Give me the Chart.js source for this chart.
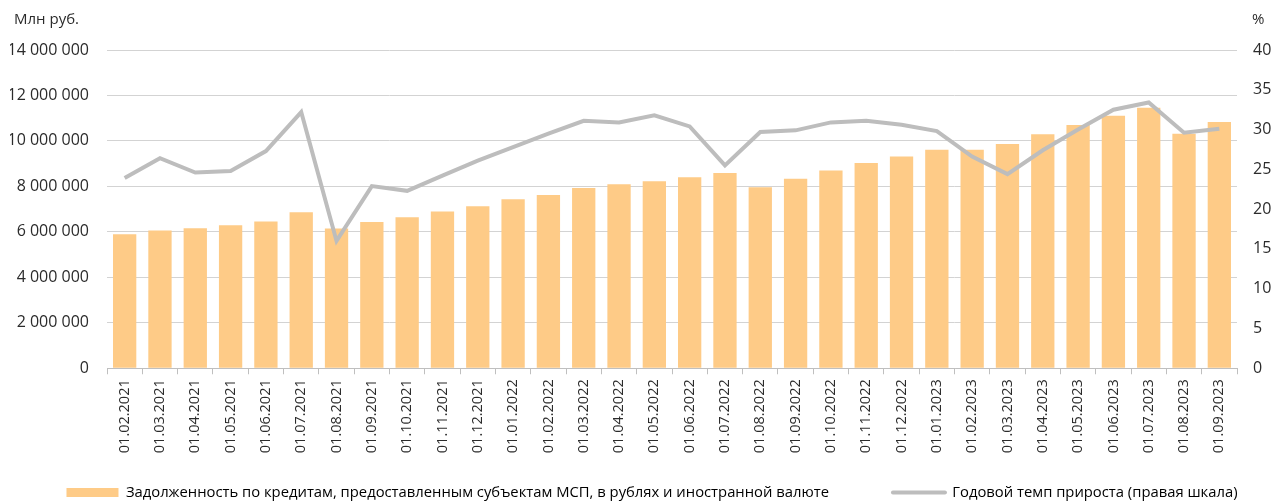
<!DOCTYPE html>
<html lang="ru">
<head>
<meta charset="utf-8">
<script src="https://cdn.jsdelivr.net/npm/chart.js@4.4.0/dist/chart.umd.min.js"></script>
<style>
  body { margin: 0; background: #fff; }
  #msp-chart { display: block; }
</style>
</head>
<body>
<canvas id="msp-chart" width="1274" height="504"></canvas>
<script>
const dates = [
  "01.02.2021", "01.03.2021", "01.04.2021", "01.05.2021", "01.06.2021", "01.07.2021",
  "01.08.2021", "01.09.2021", "01.10.2021", "01.11.2021", "01.12.2021",
  "01.01.2022", "01.02.2022", "01.03.2022", "01.04.2022", "01.05.2022", "01.06.2022",
  "01.07.2022", "01.08.2022", "01.09.2022", "01.10.2022", "01.11.2022", "01.12.2022",
  "01.01.2023", "01.02.2023", "01.03.2023", "01.04.2023", "01.05.2023", "01.06.2023",
  "01.07.2023", "01.08.2023", "01.09.2023",
];

// задолженность, млн руб.
const debt = [
  5900000, 6060000, 6160000, 6290000, 6460000, 6860000,
  6150000, 6430000, 6640000, 6900000, 7130000,
  7430000, 7620000, 7930000, 8090000, 8230000, 8400000,
  8590000, 7960000, 8340000, 8700000, 9030000, 9320000,
  9610000, 9610000, 9860000, 10290000, 10700000, 11110000,
  11460000, 10320000, 10830000,
];

// годовой темп прироста, %
const growth = [
  23.9, 26.4, 24.6, 24.8, 27.3, 32.2,
  16.0, 22.9, 22.3, 24.2, 26.1,
  27.8, 29.5, 31.1, 30.9, 31.8, 30.4,
  25.5, 29.7, 29.9, 30.9, 31.1, 30.6,
  29.8, 26.6, 24.4, 27.4, 30.0, 32.5,
  33.4, 29.6, 30.1,
];

const leftTicks = [0, 2000000, 4000000, 6000000, 8000000, 10000000, 12000000, 14000000];
const rightTicks = [0, 5, 10, 15, 20, 25, 30, 35, 40];

const barColor = "#FECB87";
const lineColor = "#BDBDBD";
const gridColor = "#D3D3D3";
const textColor = "#2b2b2b";
const fontFamily = "'Open Sans', sans-serif";

const fmtNum = (v) => String(v).replace(/\B(?=(\d{3})+(?!\d))/g, " ");

// подписи единиц над осями
const unitTitles = {
  id: "unitTitles",
  afterDraw(chart) {
    const c = chart.ctx;
    c.save();
    c.font = "15px " + fontFamily;
    c.fillStyle = textColor;
    c.textBaseline = "middle";
    c.textAlign = "left";
    c.fillText("Млн руб.", 14, 20);
    c.fillText("%", chart.scales.y2.left + 15, 20);
    c.restore();
  },
};

const ctx = document.getElementById("msp-chart");

new Chart(ctx, {
  type: "bar",
  data: {
    labels: dates,
    datasets: [
      {
        type: "line",
        label: "Годовой темп прироста (правая шкала)",
        data: growth,
        yAxisID: "y2",
        borderColor: lineColor,
        backgroundColor: lineColor,
        borderWidth: 4,
        pointRadius: 0,
        tension: 0,
        order: 1,
      },
      {
        label: "Задолженность по кредитам, предоставленным субъектам МСП, в рублях и иностранной валюте",
        data: debt,
        yAxisID: "y",
        backgroundColor: barColor,
        barPercentage: 0.66,
        categoryPercentage: 1,
        order: 2,
      },
    ],
  },
  options: {
    responsive: false,
    devicePixelRatio: 1,
    animation: false,
    layout: { padding: { top: 50, left: 10, right: -20, bottom: -6 } },
    plugins: {
      tooltip: { enabled: false },
      legend: {
        position: "bottom",
        labels: {
          font: { family: fontFamily, size: 14.8 },
          color: textColor,
          usePointStyle: true,
          pointStyleWidth: 52,
          boxHeight: 9,
          padding: 27,
          generateLabels(chart) {
            const ds = chart.data.datasets;
            return [
              {
                text: ds[1].label + "\u2003\u2003\u2002",
                pointStyle: "rect",
                fillStyle: barColor,
                strokeStyle: barColor,
                lineWidth: 0,
                datasetIndex: 1,
              },
              {
                text: ds[0].label,
                pointStyle: "line",
                fillStyle: lineColor,
                strokeStyle: lineColor,
                lineWidth: 4,
                lineCap: "round",
                datasetIndex: 0,
              },
            ];
          },
        },
      },
    },
    scales: {
      x: {
        offset: true,
        grid: {
          display: true,
          offset: true,
          drawOnChartArea: false,
          drawTicks: true,
          tickLength: 6,
          color: "#BFBFBF",
        },
        border: { display: true, color: "#BFBFBF" },
        ticks: {
          autoSkip: false,
          minRotation: 90,
          maxRotation: 90,
          padding: 5,
          color: textColor,
          font: { family: fontFamily, size: 14.5 },
        },
      },
      y: {
        position: "left",
        min: 0,
        max: 14000000,
        afterBuildTicks(axis) {
          axis.ticks = leftTicks.map((v) => ({ value: v }));
        },
        afterFit(axis) {
          axis.width = 97;
        },
        grid: { color: gridColor, drawTicks: true, tickLength: 18, tickColor: "rgba(0,0,0,0)" },
        border: { display: false },
        ticks: {
          padding: 0,
          color: textColor,
          font: { family: fontFamily, size: 16 },
          callback: (v) => fmtNum(v),
        },
      },
      y2: {
        position: "right",
        min: 0,
        max: 40,
        afterBuildTicks(axis) {
          axis.ticks = rightTicks.map((v) => ({ value: v }));
        },
        afterFit(axis) {
          axis.width = 57;
        },
        grid: { display: true, drawOnChartArea: false, drawTicks: true, tickLength: 16, tickColor: "rgba(0,0,0,0)" },
        border: { display: false },
        ticks: {
          padding: 0,
          color: textColor,
          font: { family: fontFamily, size: 16 },
        },
      },
    },
  },
  plugins: [unitTitles],
});
</script>
</body>
</html>
